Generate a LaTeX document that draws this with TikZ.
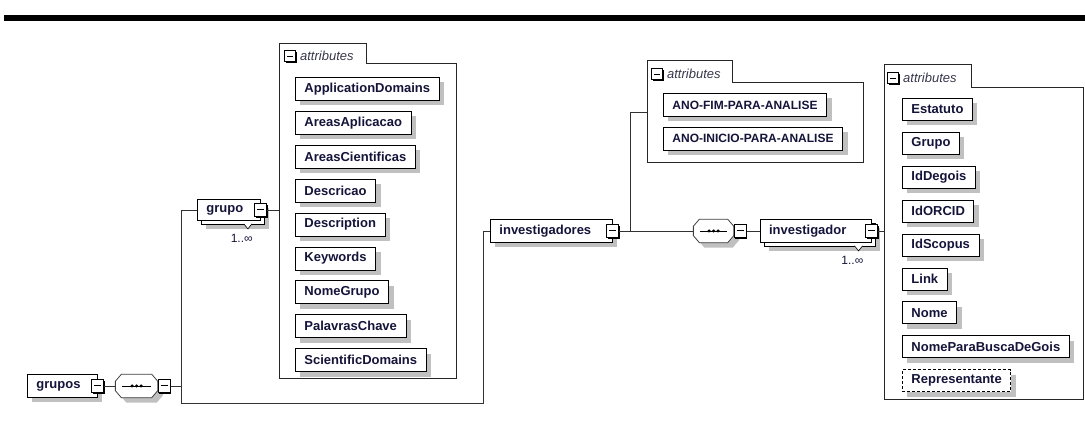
\documentclass[tikz,border=0pt]{standalone}
\usepackage{fontspec}
\setmainfont{Liberation Sans}
\usepackage{tikz}
\usetikzlibrary{positioning, shadows, calc}
\definecolor{labelnavy}{RGB}{20,20,58}
\definecolor{tabgray}{RGB}{55,55,75}
\definecolor{shadowgray}{RGB}{192,192,192}
\definecolor{wiregray}{RGB}{50,50,50}
\tikzset{
  basebox/.style={rectangle,draw=black,fill=white,line width=0.9pt,anchor=north west,
    inner xsep=9pt,inner ysep=0pt,minimum height=23pt,text=labelnavy,
    font=\bfseries\fontsize{13}{15}\selectfont},
  attrnode/.style={basebox,
    drop shadow={shadow xshift=5pt,shadow yshift=-5pt,fill=shadowgray,opacity=1}},
  optattrnode/.style={attrnode,dash pattern=on 3pt off 2pt},
  elemnode/.style={attrnode,align=left},
  multinode/.style={basebox,align=left,
    drop shadow={shadow xshift=9pt,shadow yshift=-9pt,fill=shadowgray,opacity=1},
    copy shadow={shadow xshift=4pt,shadow yshift=-4pt,draw=black,fill=white,line width=0.9pt,opacity=1}},
  minusnode/.style={rectangle,draw=black,fill=white,line width=0.9pt,inner sep=0pt,
    minimum width=12pt,minimum height=13pt,
    drop shadow={shadow xshift=1.2pt,shadow yshift=-1.2pt,fill=black,opacity=1},
    path picture={\draw[line width=1pt] ([xshift=2.5pt]path picture bounding box.west)
      -- ([xshift=-2.5pt]path picture bounding box.east);}},
  tabminus/.style={minusnode,minimum width=11pt,minimum height=11pt},
  seqnode/.style={rectangle,minimum width=42pt,minimum height=23pt,inner sep=0pt},
  grpframe/.style={rectangle,anchor=north west,inner sep=0pt},
  grpline/.style={draw=black!85,line width=0.9pt},
  tablabel/.style={inner sep=0pt,text=tabgray,font=\itshape\fontsize{13}{15}\selectfont},
  multlabel/.style={inner sep=0pt,anchor=north east,text=labelnavy,font=\fontsize{12}{14}\selectfont},
  notch/.style={fill=white,draw=black,line width=0.6pt},
  conn/.style={draw=wiregray,line width=0.9pt}
}
% octagon outline of a sequence node
\newcommand{\octof}[1]{([xshift=6pt]#1.north west) -- ([xshift=-6pt]#1.north east)
  -- ([yshift=-7pt]#1.north east) -- ([yshift=7pt]#1.south east)
  -- ([xshift=-6pt]#1.south east) -- ([xshift=6pt]#1.south west)
  -- ([yshift=7pt]#1.south west) -- ([yshift=-7pt]#1.north west) -- cycle}
\newcommand{\seqshape}[1]{%
  \fill[shadowgray,transform canvas={shift={(5pt,-5pt)}}] \octof{#1};
  \filldraw[fill=white,draw=black!75,line width=0.8pt] \octof{#1};
  \draw[line width=0.8pt] ([xshift=7pt]#1.west) -- ([xshift=-7pt]#1.east);
  \fill (#1.center) circle (1.7pt) ([xshift=-4.5pt]#1.center) circle (1.7pt)
    ([xshift=4.5pt]#1.center) circle (1.7pt);}

\begin{document}
\begin{tikzpicture}[x=1pt,y=-1pt]
  \useasboundingbox (0,0) rectangle (1085,423);
  %% Header rule
  \fill (4,15) rectangle (1085,21);

  %% Root element and its sequence
  \node[elemnode,text width=52pt] (grupos) at (27,374) {grupos};
  \node[minusnode] (gruposM) at (grupos.east) {};
  \node[seqnode,right=11pt of gruposM] (seq1) {};
  \seqshape{seq1}
  \node[minusnode,right=0pt of seq1] (seq1M) {};

  %% grupo (1..inf)
  \node[multinode,text width=45pt,minimum height=21pt] (grupo) at (197,199) {grupo};
  \filldraw[notch] ([shift={(-17pt,-3pt)}]grupo.south east) -- ++(4,5) -- ++(4,-5);
  \node[minusnode] (grupoM) at (grupo.east) {};
  \node[multlabel] (grupoN) at ([shift={(-8pt,-13pt)}]grupo.south east) {1..∞};

  %% Attributes of grupo
  \node[grpframe,minimum width=177pt,minimum height=315pt] (atts1) at (279,63) {};
  \draw[grpline] (atts1.south west) |- ([shift={(87pt,20pt)}]atts1.north west)
    |- (atts1.north east) |- (atts1.south west) -- cycle;
  \node[tabminus] (atts1M) at ([shift={(11pt,7pt)}]atts1.north west) {};
  \node[tablabel,right=4pt of atts1M] (atts1L) {attributes};
  \node[attrnode] (ga1) at (295,77) {ApplicationDomains};
  \node[attrnode,below right=10pt and 0pt of ga1.south west] (ga2) {AreasAplicacao};
  \node[attrnode,below right=10pt and 0pt of ga2.south west] (ga3) {AreasCientificas};
  \node[attrnode,below right=10pt and 0pt of ga3.south west] (ga4) {Descricao};
  \node[attrnode,below right=10pt and 0pt of ga4.south west] (ga5) {Description};
  \node[attrnode,below right=10pt and 0pt of ga5.south west] (ga6) {Keywords};
  \node[attrnode,below right=10pt and 0pt of ga6.south west] (ga7) {NomeGrupo};
  \node[attrnode,below right=10pt and 0pt of ga7.south west] (ga8) {PalavrasChave};
  \node[attrnode,below right=10pt and 0pt of ga8.south west] (ga9) {ScientificDomains};

  %% investigadores
  \node[elemnode,text width=104pt] (invs) at (490,219) {investigadores};
  \node[minusnode] (invsM) at (invs.east) {};
  \node[seqnode,minimum width=40pt,right=74pt of invsM] (seq2) {};
  \seqshape{seq2}
  \node[minusnode,right=0pt of seq2] (seq2M) {};

  %% Attributes of investigadores
  \node[grpframe,minimum width=216pt,minimum height=80pt] (atts2) at (647,82) {};
  \draw[grpline] (atts2.south west) |- ([shift={(85pt,22pt)}]atts2.north west)
    |- (atts2.north east) |- (atts2.south west) -- cycle;
  \node[tabminus] (atts2M) at ([shift={(10pt,8pt)}]atts2.north west) {};
  \node[tablabel,right=4pt of atts2M] (atts2L) {attributes};
  \node[attrnode,font=\bfseries\fontsize{12}{14}\selectfont] (pa1) at (663,93) {ANO-FIM-PARA-ANALISE};
  \node[attrnode,font=\bfseries\fontsize{12}{14}\selectfont,
    below right=10pt and 0pt of pa1.south west] (pa2) {ANO-INICIO-PARA-ANALISE};

  %% investigador (1..inf)
  \node[multinode,text width=93pt,right=13pt of seq2M] (inv) {investigador};
  \filldraw[notch] ([shift={(-17pt,-3pt)}]inv.south east) -- ++(4,5) -- ++(4,-5);
  \node[minusnode] (invM) at (inv.east) {};
  \node[multlabel] (invN) at ([shift={(-8pt,-13pt)}]inv.south east) {1..∞};

  %% Attributes of investigador
  \node[grpframe,minimum width=199pt,minimum height=312pt] (atts3) at (884,87) {};
  \draw[grpline] (atts3.south west) |- ([shift={(87pt,23pt)}]atts3.north west)
    |- (atts3.north east) |- (atts3.south west) -- cycle;
  \node[tabminus] (atts3M) at ([shift={(9pt,9pt)}]atts3.north west) {};
  \node[tablabel,right=4pt of atts3M] (atts3L) {attributes};
  \node[attrnode,minimum height=22pt] (ia1) at (902,98) {Estatuto};
  \node[attrnode,minimum height=22pt,below right=11pt and 0pt of ia1.south west] (ia2) {Grupo};
  \node[attrnode,minimum height=22pt,below right=11pt and 0pt of ia2.south west] (ia3) {IdDegois};
  \node[attrnode,minimum height=22pt,below right=11pt and 0pt of ia3.south west] (ia4) {IdORCID};
  \node[attrnode,minimum height=22pt,below right=11pt and 0pt of ia4.south west] (ia5) {IdScopus};
  \node[attrnode,minimum height=22pt,below right=11pt and 0pt of ia5.south west] (ia6) {Link};
  \node[attrnode,minimum height=22pt,below right=11pt and 0pt of ia6.south west] (ia7) {Nome};
  \node[attrnode,minimum height=22pt,below right=11pt and 0pt of ia7.south west] (ia8) {NomeParaBuscaDeGois};
  \node[optattrnode,minimum height=22pt,below right=11pt and 0pt of ia8.south west] (ia9) {Representante};

  %% Connectors
  \draw[conn] (gruposM.east) -- (seq1.west);
  \draw[conn] (seq1M.east) -- ++(11pt,0pt) coordinate (fork1);
  \draw[conn] (grupo.west) -| ([yshift=-17pt]fork1) -| ([xshift=-7pt]invs.west) -- (invs.west);
  \draw[conn] (grupoM.east) -- (grupoM.east -| atts1.west);
  \draw[conn] (invsM.east) -- (seq2.west);
  \draw[conn] (invsM.east) -- ++(11pt,0pt) |- ([yshift=10pt]atts2.west);
  \draw[conn] (seq2M.east) -- (inv.west);
  \draw[conn] (invM.east) -- (invM.east -| atts3.west);
\end{tikzpicture}
\end{document}
